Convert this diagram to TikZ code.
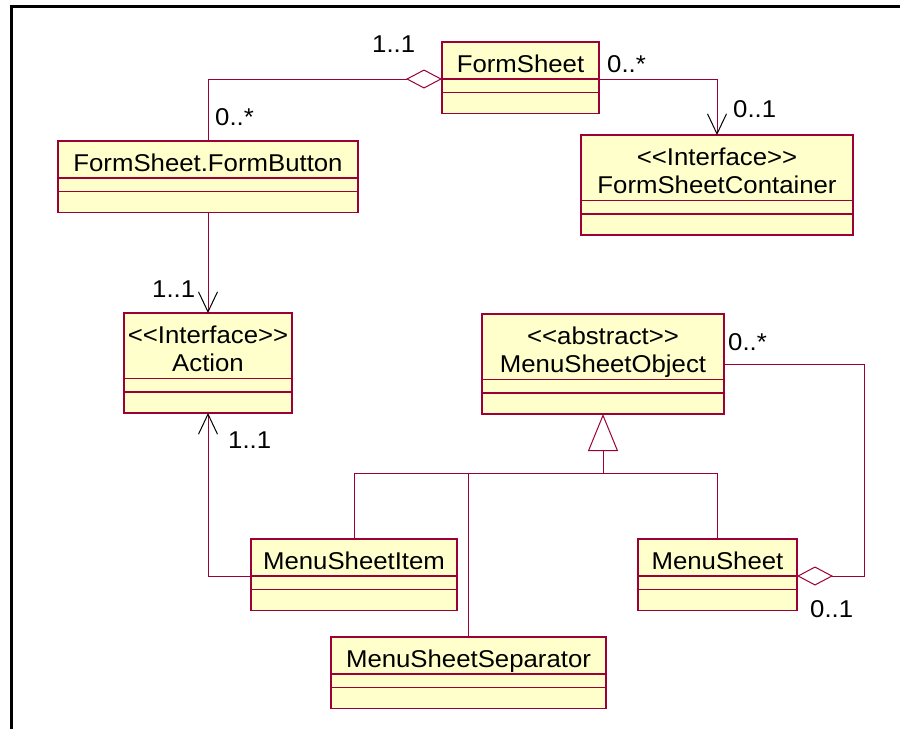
\documentclass[tikz,border=0pt]{standalone}
\usepackage{fontspec}
\setmainfont{Liberation Sans}[FakeStretch=1.06]
\usetikzlibrary{arrows.meta,positioning}

\definecolor{umlred}{RGB}{155,0,55}
\definecolor{umlfill}{RGB}{255,255,204}

% struts for the name compartments
\newcommand{\cstrut}{\rule[-7pt]{0pt}{37pt}}
\newcommand{\topstrut}{\rule{0pt}{30pt}}
\newcommand{\botstrut}{\rule[-7pt]{0pt}{7pt}}

\tikzset{
  clsname/.style={draw=umlred, fill=umlfill, line width=1.5pt, inner sep=0pt, outer sep=0pt, anchor=north, align=center},
  clsattr/.style={draw=umlred, fill=umlfill, line width=1.5pt, inner sep=0pt, outer sep=0pt, minimum height=13.5pt},
  clsops/.style={clsattr, minimum height=21pt},
  link/.style={draw=umlred, line width=1pt},
  navtip/.style={-{Straight Barb[length=20pt,width=19pt,color=black,line width=1pt]}},
  aggtip/.style={-{Diamond[open,length=36pt,width=19pt]}},
  gentip/.style={-{Triangle[open,length=37pt,width=30pt]}},
  mult/.style={anchor=base west, inner sep=0pt},
  frame/.style={draw=black, line width=2.7pt}
}

\begin{document}
\begin{tikzpicture}[x=1pt,y=-1pt,font=\fontsize{24.3}{28.5}\selectfont]
  \useasboundingbox (0,0) rectangle (900,729);
  \draw[frame] (900,6.5) -- (11.5,6.5) -- (11.5,729);

  % classes
  \node[clsname, minimum width=157pt] (fs) at (520.5,42) {\cstrut FormSheet};
  \node[clsattr, minimum width=157pt, below=0pt of fs] (fsA) {};
  \node[clsops, minimum width=157pt, below=0pt of fsA] (fsO) {};

  \node[clsname, minimum width=300pt] (fb) at (208,141) {\cstrut FormSheet.FormButton};
  \node[clsattr, minimum width=300pt, below=0pt of fb] (fbA) {};
  \node[clsops, minimum width=300pt, below=0pt of fbA] (fbO) {};

  \node[clsname, minimum width=272pt] (fsc) at (717,135) {\topstrut <{}<Interface>{}>\\FormSheetContainer\botstrut};
  \node[clsattr, minimum width=272pt, below=0pt of fsc] (fscA) {};
  \node[clsops, minimum width=272pt, below=0pt of fscA] (fscO) {};

  \node[clsname, minimum width=168pt] (act) at (208,313) {\topstrut <{}<Interface>{}>\\Action\botstrut};
  \node[clsattr, minimum width=168pt, below=0pt of act] (actA) {};
  \node[clsops, minimum width=168pt, below=0pt of actA] (actO) {};

  \node[clsname, minimum width=242pt] (mso) at (603,314) {\topstrut <{}<abstract>{}>\\MenuSheetObject\botstrut};
  \node[clsattr, minimum width=242pt, below=0pt of mso] (msoA) {};
  \node[clsops, minimum width=242pt, below=0pt of msoA] (msoO) {};

  \node[clsname, minimum width=206pt] (msi) at (354,539) {\cstrut MenuSheetItem};
  \node[clsattr, minimum width=206pt, below=0pt of msi] (msiA) {};
  \node[clsops, minimum width=206pt, below=0pt of msiA] (msiO) {};

  \node[clsname, minimum width=159pt] (ms) at (717.5,539) {\cstrut MenuSheet};
  \node[clsattr, minimum width=159pt, below=0pt of ms] (msA) {};
  \node[clsops, minimum width=159pt, below=0pt of msA] (msO) {};

  \node[clsname, minimum width=275pt] (sep) at (468.5,637) {\cstrut MenuSheetSeparator};
  \node[clsattr, minimum width=275pt, below=0pt of sep] (sepA) {};
  \node[clsops, minimum width=275pt, below=0pt of sepA] (sepO) {};

  % associations
  \draw[link, aggtip] (fb.north) |- (fs.south west);
  \draw[link, navtip] (fs.south east) -| (fsc.north);
  \draw[link, navtip] (fbO.south) -- (act.north);
  \draw[link, navtip] (msi.south west) -| (actO.south);
  \draw[link, aggtip] ([yshift=-18pt]mso.east) -- ++(140,0) |- (ms.south east);

  % generalization
  \coordinate (bus) at (603,473.5);
  \draw[link, gentip] (bus) -- (msoO.south);
  \draw[link] (msi.north) |- (bus) -| (ms.north);
  \draw[link] (sep.north) -- (sep.north |- bus);

  % multiplicities
  \node[mult] (m1) at (372,52) {1..1};
  \node[mult] (m2) at (215,125) {0..*};
  \node[mult] (m3) at (607,72) {0..*};
  \node[mult] (m4) at (733,117) {0..1};
  \node[mult] (m5) at (152,297) {1..1};
  \node[mult] (m6) at (228,448) {1..1};
  \node[mult] (m7) at (728,350) {0..*};
  \node[mult] (m8) at (810,617) {0..1};
\end{tikzpicture}
\end{document}
